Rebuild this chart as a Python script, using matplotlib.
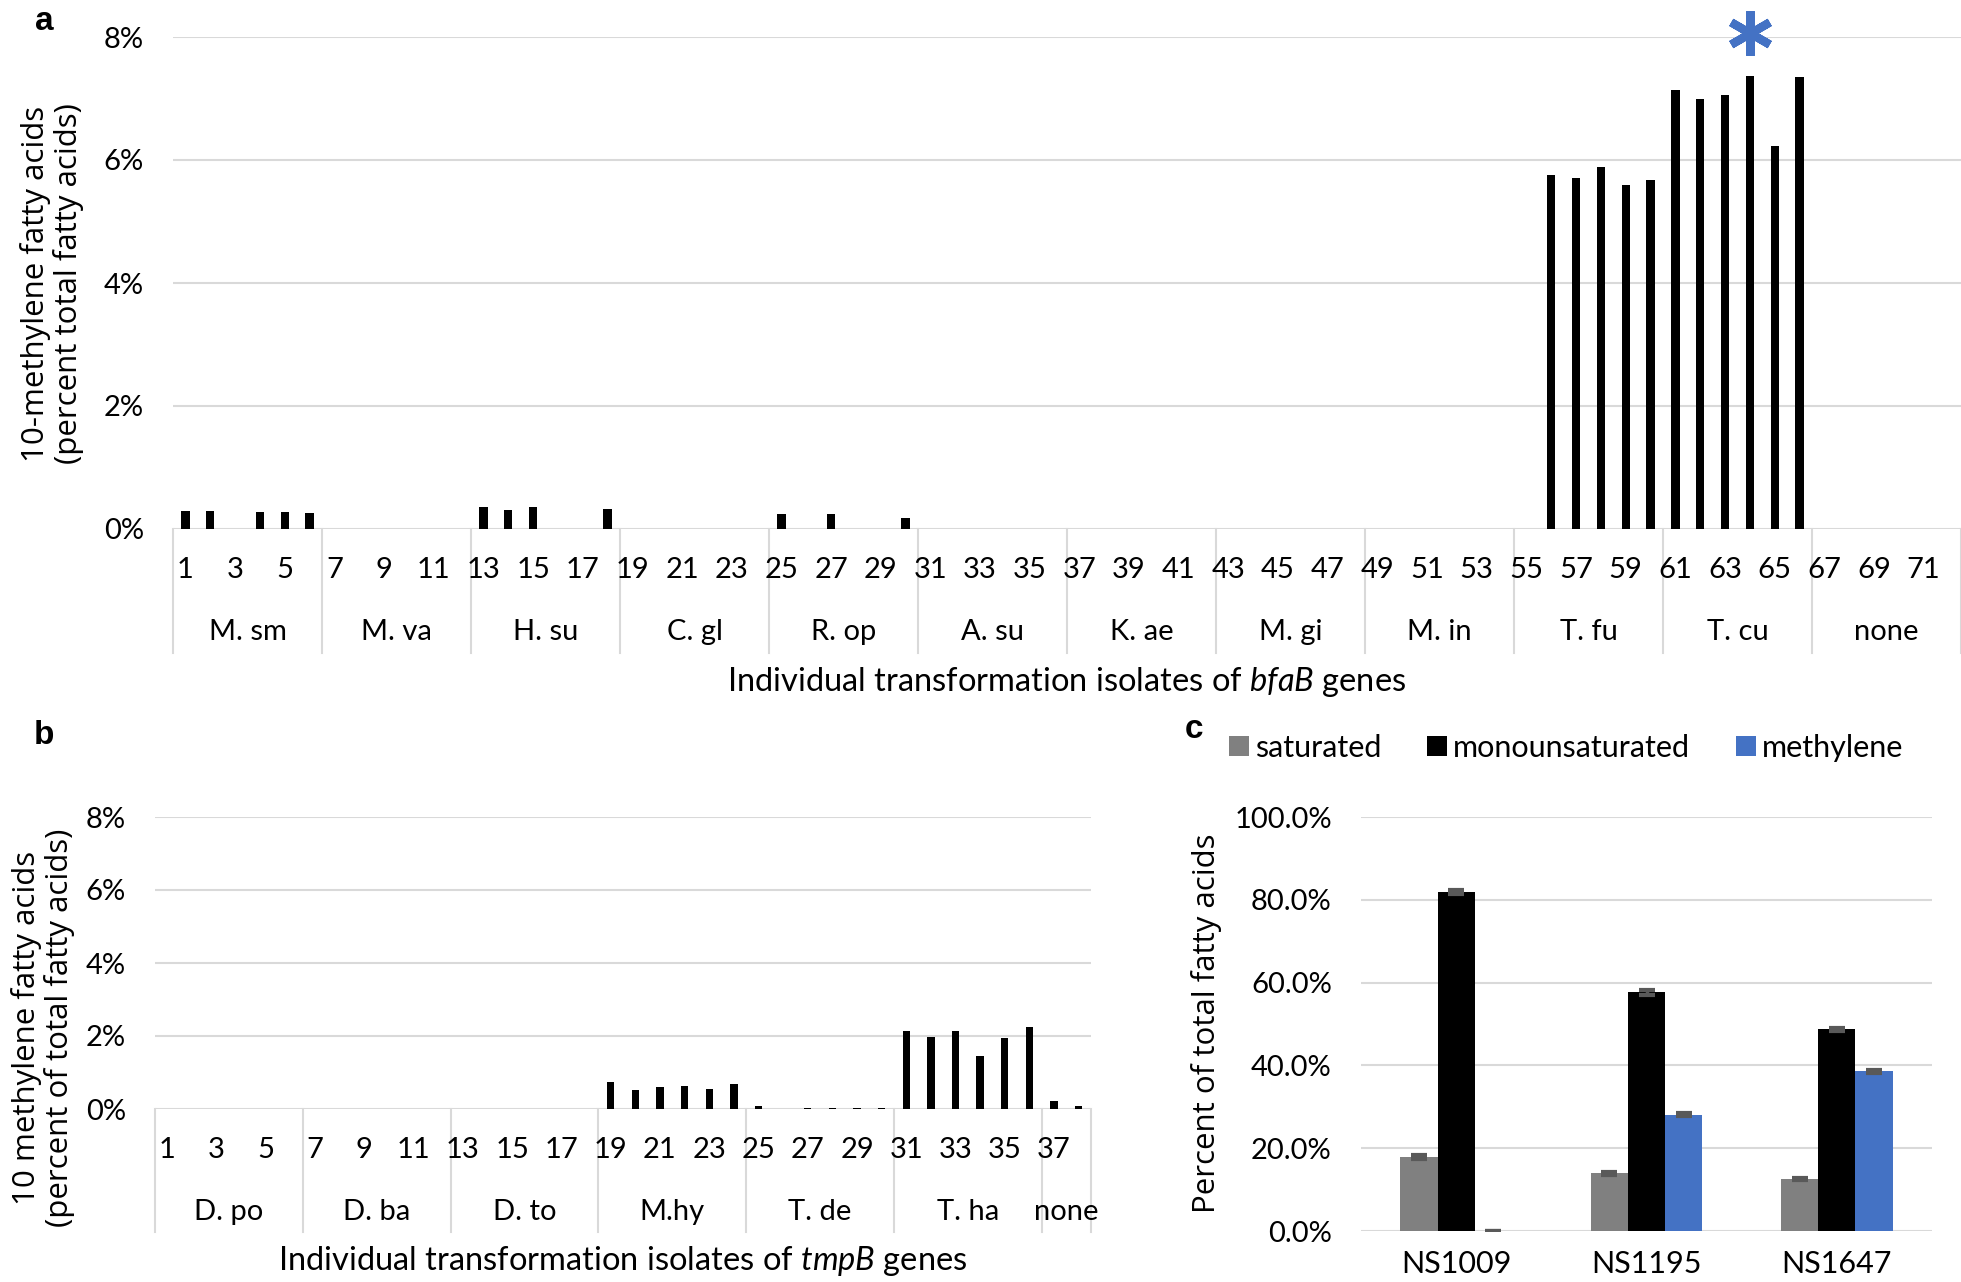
import matplotlib
matplotlib.use("Agg")
import matplotlib.pyplot as plt
import numpy as np

plt.rcParams['font.family'] = ['Lato', 'DejaVu Sans']
plt.rcParams['mathtext.fontset'] = 'custom'
plt.rcParams['mathtext.it'] = 'Lato:italic'
plt.rcParams['mathtext.rm'] = 'Lato'

# panel a: bfaB isolates 1..72, percent 10-methylene fatty acids
a_values = [0.30, 0.29, 0, 0.27, 0.27, 0.26,
            0, 0, 0, 0, 0, 0,
            0.36, 0.31, 0.36, 0, 0, 0.32,
            0, 0, 0, 0, 0, 0,
            0.25, 0, 0.25, 0, 0, 0.18,
            0, 0, 0, 0, 0, 0,
            0, 0, 0, 0, 0, 0,
            0, 0, 0, 0, 0, 0,
            0, 0, 0, 0, 0, 0,
            0, 5.75, 5.71, 5.88, 5.60, 5.68,
            7.14, 7.00, 7.05, 7.37, 6.23, 7.35,
            0, 0, 0, 0, 0, 0]
a_groups = ["M. sm", "M. va", "H. su", "C. gl", "R. op", "A. su",
            "K. ae", "M. gi", "M. in", "T. fu", "T. cu", "none"]
a_group_size = [6] * 12
a_star = 64

# panel b: tmpB isolates 1..38
b_values = [0, 0, 0, 0, 0, 0,
            0, 0, 0, 0, 0, 0,
            0, 0, 0, 0, 0, 0,
            0.75, 0.52, 0.59, 0.63, 0.54, 0.68,
            0.07, 0, 0.02, 0.02, 0.02, 0.04,
            2.15, 1.98, 2.15, 1.45, 1.94, 2.25,
            0.22, 0.08]
b_groups = ["D. po", "D. ba", "D. to", "M.hy", "T. de", "T. ha", "none"]
b_group_size = [6, 6, 6, 6, 6, 6, 2]

# panel c: fatty acid composition
strains = ["NS1009", "NS1195", "NS1647"]
saturated = [17.9, 13.9, 12.6]
monounsat = [81.9, 57.7, 48.7]
methylene = [0.1, 28.1, 38.6]
sat_err = [0.5, 0.4, 0.3]
mono_err = [0.4, 0.6, 0.3]
meth_err = [0, 0.3, 0.4]

W, H = 1961, 1282
grid_c = '#d9d9d9'
blue = '#4472C4'
tick_fs = 21

fig = plt.figure(figsize=(W / 100, H / 100), dpi=100)


def px_axes(x0, x1, ytop, ybot):
    return fig.add_axes([x0 / W, 1 - ybot / H, (x1 - x0) / W, (ybot - ytop) / H])


def category_panel(ax, values, groups, sizes, num_y, grp_y, sep_y, width):
    n = len(values)
    x = np.arange(n)
    ax.bar(x, values, width=width, color='black', zorder=3)
    ax.set_xlim(-0.5, n - 0.5)
    ax.set_ylim(0, 8)
    ax.set_yticks([0, 2, 4, 6, 8])
    ax.set_yticklabels(['0%', '2%', '4%', '6%', '8%'])
    ax.tick_params(axis='y', length=0, pad=21, labelsize=tick_fs)
    ax.set_xticks([])
    for s in ax.spines.values():
        s.set_visible(False)
    ax.grid(axis='y', color=grid_c, lw=1.5, zorder=0)
    ax.axhline(0, color=grid_c, lw=1.8, zorder=1)
    tr = ax.get_xaxis_transform()
    for i in range(0, n, 2):
        ax.text(i, num_y, str(i + 1), transform=tr, ha='center', va='center', fontsize=tick_fs)
    start = 0
    bounds = [0]
    for g, sz in zip(groups, sizes):
        ax.text(start + sz / 2 - 0.5, grp_y, g, transform=tr, ha='center', va='center', fontsize=tick_fs)
        start += sz
        bounds.append(start)
    for b in bounds:
        ax.plot([b - 0.5, b - 0.5], [0, sep_y], transform=tr, color=grid_c, lw=1.5, clip_on=False)


# ---- panel a
ax_a = px_axes(173, 1961, 37, 529)
category_panel(ax_a, a_values, a_groups, a_group_size, -0.083, -0.209, -0.252, 0.33)
ax_a.plot(a_star - 1, 8.07, marker=(6, 2, 0), ms=32, mew=6, color=blue, clip_on=False, zorder=5)
fig.text(52 / W, 1 - 284 / H, "10-methylene fatty acids\n(percent total fatty acids)",
         rotation=90, ha='center', va='center', fontsize=22.5, family='Open Sans', linespacing=1.05)
fig.text(1067 / W, 1 - 682 / H, r"Individual transformation isolates of $\it{bfaB}$ genes",
         ha='center', va='center', fontsize=23.5)
fig.text(44 / W, 1 - 22 / H, "a", ha='center', va='center', fontsize=24,
         fontweight='bold', family='Liberation Sans')

# ---- panel b
ax_b = px_axes(155, 1091, 817, 1109)
category_panel(ax_b, b_values, b_groups, b_group_size, -0.140, -0.353, -0.421, 0.30)
fig.text(43 / W, 1 - 1028 / H, "10 methylene fatty acids\n(percent of total fatty acids)",
         rotation=90, ha='center', va='center', fontsize=22.5, family='Open Sans', linespacing=1.05)
fig.text(623 / W, 1 - 1261 / H, r"Individual transformation isolates of $\it{tmpB}$ genes",
         ha='center', va='center', fontsize=23.5)
fig.text(44 / W, 1 - 735 / H, "b", ha='center', va='center', fontsize=24,
         fontweight='bold', family='Liberation Sans')

# ---- panel c
ax_c = px_axes(1361, 1932, 817, 1231)
xc = np.arange(len(strains))
bw = 0.195
ekw = dict(ecolor='#595959', elinewidth=2.5, capsize=6, capthick=3, zorder=4)
ax_c.bar(xc - bw, saturated, bw, yerr=sat_err, color='#808080', error_kw=ekw, zorder=3, label='saturated')
ax_c.bar(xc, monounsat, bw, yerr=mono_err, color='black', error_kw=ekw, zorder=3, label='monounsaturated')
ax_c.bar(xc + bw, methylene, bw, yerr=meth_err, color=blue, error_kw=ekw, zorder=3, label='methylene')
ax_c.set_xlim(-0.5, 2.5)
ax_c.set_ylim(0, 100)
ax_c.set_yticks([0, 20, 40, 60, 80, 100])
ax_c.set_yticklabels(['0.0%', '20.0%', '40.0%', '60.0%', '80.0%', '100.0%'])
ax_c.set_xticks(xc)
ax_c.set_xticklabels(strains)
ax_c.tick_params(axis='y', length=0, pad=21, labelsize=tick_fs)
ax_c.tick_params(axis='x', length=0, pad=14, labelsize=22)
for s in ax_c.spines.values():
    s.set_visible(False)
ax_c.grid(axis='y', color=grid_c, lw=1.5, zorder=0)
ax_c.axhline(0, color=grid_c, lw=1.8, zorder=1)
ax_c.legend(loc='center', bbox_to_anchor=(1566 / W, 1 - 748 / H), bbox_transform=fig.transFigure,
            ncol=3, frameon=False, fontsize=22, handlelength=0.65, handleheight=0.65,
            handletextpad=0.2, columnspacing=1.5)
fig.text(1207 / W, 1 - 1023 / H, "Percent of total fatty acids",
         rotation=90, ha='center', va='center', fontsize=22.5, family='Open Sans')
fig.text(1194 / W, 1 - 729 / H, "c", ha='center', va='center', fontsize=24,
         fontweight='bold', family='Liberation Sans')

fig.savefig("out.png", dpi=100)
